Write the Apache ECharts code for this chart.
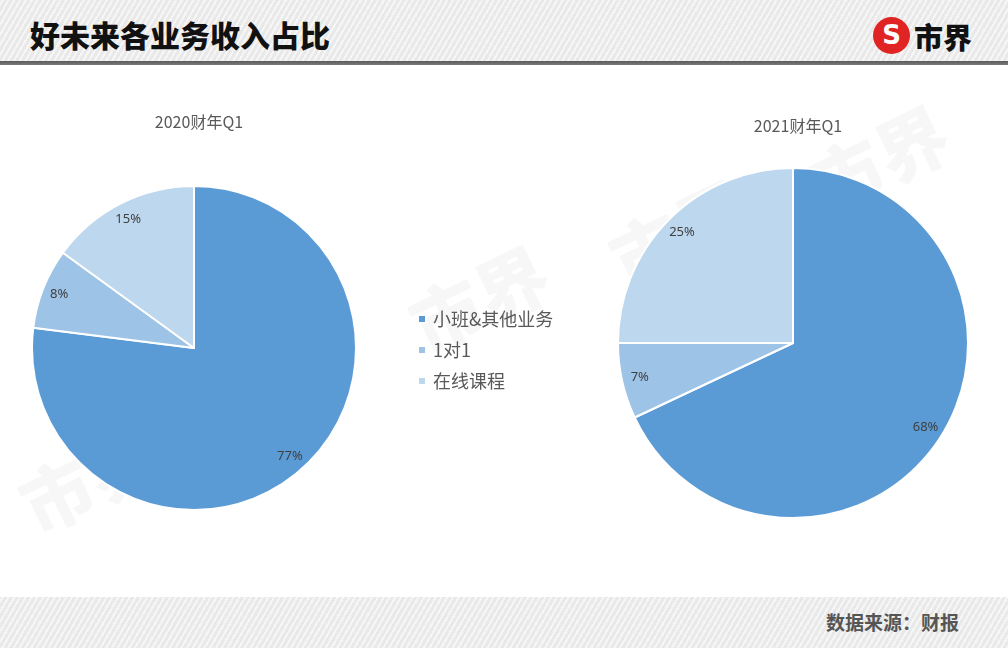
<!DOCTYPE html>
<html><head><meta charset="utf-8">
<script src="https://cdn.jsdelivr.net/npm/echarts@6/dist/echarts.min.js"></script>
<style>
html,body{margin:0;padding:0;width:1008px;height:648px;overflow:hidden;background:#fff;font-family:"Noto Sans CJK SC","Noto Sans",sans-serif;}
.band{position:absolute;left:0;width:1008px;background-color:#e9e9e9;
background-image:repeating-linear-gradient(-60deg,rgba(255,255,255,0.6) 0px,rgba(255,255,255,0.6) 2px,rgba(255,255,255,0) 2px,rgba(255,255,255,0) 5px);}
#hdr{top:0;height:61px;}
#line{position:absolute;top:61px;left:0;width:1008px;height:4px;background:linear-gradient(#5a5a5a,#7a7a7a);}
#ftr{top:597px;height:51px;}
#title{position:absolute;left:30px;top:14px;font-size:30px;font-weight:900;color:#111;line-height:40px;}
#src{position:absolute;left:826px;top:608px;font-size:19px;font-weight:700;color:#555;line-height:28px;}
#logo{position:absolute;left:873px;top:17px;width:37px;height:37px;border-radius:50%;background:#e02424;color:#fff;font-weight:900;font-size:26px;line-height:37px;text-align:center;font-family:"DejaVu Sans",sans-serif;}
#logotxt{position:absolute;left:914px;top:16px;font-size:29px;font-weight:900;color:#111;line-height:40px;}
#chart{position:absolute;left:0;top:0;width:1008px;height:648px;}
</style></head>
<body>
<div id="hdr" class="band"></div>
<div id="line"></div>
<div id="ftr" class="band"></div>
<div id="title">好未来各业务收入占比</div>
<div id="logo">S</div>
<div id="logotxt">市界</div>
<div id="src">数据来源：财报</div>
<div id="chart"></div>
<script>
const categories = ['小班&其他业务', '1对1', '在线课程'];
const values2020 = [77, 8, 15];
const values2021 = [68, 7, 25];
const titles = ['2020财年Q1', '2021财年Q1'];
const colors = ['#5B9BD5', '#9DC3E6', '#BDD7EE'];

function mk(vals){ return categories.map((c,i)=>({name:c, value:vals[i]})); }

const chart = echarts.init(document.getElementById('chart'), null, {renderer:'canvas'});
const wm = [];
[[90,480],[290,375],[480,300],[680,235],[880,160]].forEach(p=>{
  wm.push({type:'text', x:p[0], y:p[1], rotation:Math.PI/7, silent:true, z:0,
    style:{text:'市界', fontSize:72, fontWeight:900, fill:'rgba(0,0,0,0.03)', align:'center', verticalAlign:'middle', fontFamily:'Noto Sans CJK SC'}});
});
const tStyle = {fontSize:16, fontWeight:'normal', color:'#595959', fontFamily:'Noto Sans CJK SC'};
const lStyle = {show:true, position:'inside', formatter:'{c}%', color:'#404040', fontSize:13, fontFamily:'Noto Sans'};
chart.setOption({
  backgroundColor:'transparent',
  animation:false,
  color: colors,
  title:[
    {text:titles[0], left:194, top:109, textAlign:'center', textStyle:tStyle},
    {text:titles[1], left:793, top:113, textAlign:'center', textStyle:tStyle}
  ],
  legend:{
    orient:'vertical', left:412, top:305, itemGap:13, itemWidth:8, itemHeight:8, icon:'rect',
    selectedMode:false, data:categories,
    textStyle:{fontSize:18, color:'#595959', fontFamily:'Noto Sans CJK SC', padding:[0,0,0,2]}
  },
  graphic: wm,
  series:[
    {type:'pie', center:[194,348], radius:[0,162], startAngle:90, clockwise:true, data:mk(values2020),
      itemStyle:{borderColor:'#fff', borderWidth:2}, label:{show:false}, labelLine:{show:false}, silent:true},
    {type:'pie', center:[194,348], radius:[122,162], startAngle:90, clockwise:true, data:mk(values2020),
      itemStyle:{color:'rgba(0,0,0,0)', borderWidth:0}, labelLine:{show:false}, silent:true, label:lStyle},
    {type:'pie', center:[793,343], radius:[0,175], startAngle:90, clockwise:true, data:mk(values2021),
      itemStyle:{borderColor:'#fff', borderWidth:2}, label:{show:false}, labelLine:{show:false}, silent:true},
    {type:'pie', center:[793,343], radius:[133,175], startAngle:90, clockwise:true, data:mk(values2021),
      itemStyle:{color:'rgba(0,0,0,0)', borderWidth:0}, labelLine:{show:false}, silent:true, label:lStyle}
  ]
});
</script>
</body></html>
